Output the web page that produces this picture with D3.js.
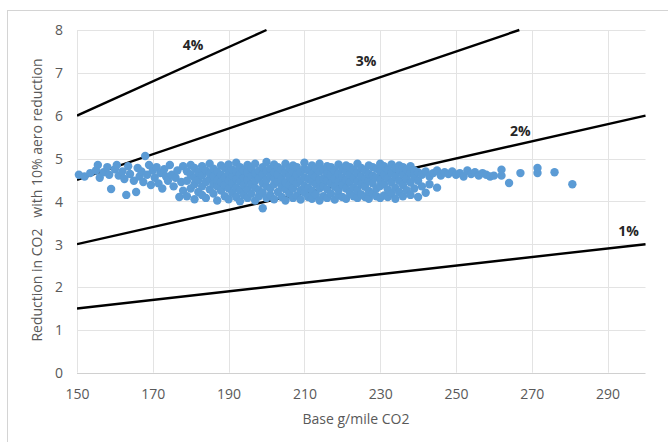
<!DOCTYPE html>
<html>
<head>
<meta charset="utf-8">
<script src="https://cdn.jsdelivr.net/npm/d3@7"></script>
<style>
  html, body { margin: 0; padding: 0; background: #fff; }
  svg { display: block; }
  text { font-family: "Open Sans", "Liberation Sans", sans-serif; }
</style>
</head>
<body>
<svg id="chart" width="668" height="442"></svg>
<script>
// ---- Data ----
const xTicks = [150, 170, 190, 210, 230, 250, 270, 290];
const yTicks = [0, 1, 2, 3, 4, 5, 6, 7, 8];
const xTitle = "Base g/mile CO2";
const yTitle = "Reduction in CO2   with 10% aero reduction";

// percentage reference lines: endpoints in data units
const lineNames = ["1%", "2%", "3%", "4%"];
const lineX0 = [150, 150, 150, 150];
const lineY0 = [1.5, 3.0, 4.5, 6.0];
const lineX1 = [300, 300, 266.7, 200];
const lineY1 = [3.0, 6.0, 8.0, 8.0];
// label anchor points (data units)
const labelX = [295.5, 267, 226.3, 180.6];
const labelY = [3.30, 5.64, 7.28, 7.65];

// scatter points: base g/mile CO2 and reduction
const baseCO2 = [
  150.5,152,153.5,155,155.5,156,157,158,158.5,159,160,160.5,161,162,162.5,163,163.5,164,165,165.6,166,166.5,
  167,167.5,168,168.5,169,169.5,170,170.5,171,171.5,172,172.5,173,173.5,174,174.5,175,175.5,176,176.5,177,177.5,178,178,
  179,179,179, 180,180,180, 181,181,181,181, 182,182,182, 183,183,183,183, 184,184,184,
  185,185,185,185, 186,186,186,186, 187,187,187,187, 188,188,188,188, 189,189,189,189,
  190,190,190,190,190, 191,191,191,191, 192,192,192,192,192, 193,193,193,193,193, 194,194,194,194,
  195,195,195,195,195, 196,196,196,196, 197,197,197,197,197, 198,198,198,198, 199,199,199,199,199,
  200,200,200,200,200, 201,201,201,201, 202,202,202,202,202, 203,203,203,203, 204,204,204,204,
  205,205,205,205,205, 206,206,206,206, 207,207,207,207,207, 208,208,208,208, 209,209,209,209,
  210,210,210,210,210, 211,211,211,211, 212,212,212,212,212, 213,213,213,213, 214,214,214,214,214,
  215,215,215,215, 216,216,216,216,216, 217,217,217,217, 218,218,218,218, 219,219,219,219,219,
  220,220,220,220, 221,221,221,221,221, 222,222,222,222, 223,223,223,223, 224,224,224,224,224,
  225,225,225,225, 226,226,226,226, 227,227,227,227,227, 228,228,228,228, 229,229,229,229,
  230,230,230,230,230, 231,231,231,231, 232,232,232,232, 233,233,233,233, 234,234,234,234,
  235,235,235,235, 236,236,236,236, 237,237,237, 238,238,238,238, 239,239,239, 240,240,240,
  241,241, 242,242, 243,243, 244, 245,245, 246, 247, 248, 249, 250, 251, 252, 253, 254, 255, 256, 257, 258, 259, 260,
  262,262, 264, 267, 271.5,271.5, 276, 280.7
];
const reduction = [
  4.62,4.58,4.66,4.72,4.85,4.55,4.68,4.80,4.62,4.29,4.75,4.85,4.60,4.70,4.52,4.15,4.82,4.64,4.48,4.22,4.78,4.58,
  4.70,4.45,5.06,4.62,4.85,4.38,4.72,4.55,4.80,4.42,4.66,4.30,4.75,4.58,4.48,4.85,4.62,4.35,4.55,4.72,4.10,4.45,4.82,4.25,
  4.12,4.48,4.70, 4.30,4.62,4.85, 4.05,4.40,4.55,4.78, 4.22,4.50,4.68, 4.15,4.35,4.60,4.82, 4.08,4.45,4.72,
  4.28,4.52,4.65,4.88, 4.18,4.40,4.58,4.76, 4.02,4.35,4.50,4.70, 4.25,4.45,4.62,4.84, 4.12,4.38,4.55,4.78,
  4.05,4.30,4.48,4.66,4.86, 4.20,4.42,4.60,4.74, 4.10,4.32,4.52,4.70,4.90, 4.00,4.25,4.46,4.64,4.80, 4.15,4.38,4.56,4.72,
  4.08,4.28,4.50,4.68,4.85, 4.18,4.40,4.60,4.78, 4.02,4.32,4.48,4.66,4.88, 4.12,4.26,4.54,4.72, 3.84,4.20,4.42,4.62,4.80,
  4.08,4.35,4.50,4.70,4.92, 4.15,4.30,4.58,4.76, 4.05,4.40,4.55,4.68,4.86, 4.22,4.46,4.62,4.80, 4.10,4.34,4.52,4.74,
  4.02,4.28,4.44,4.66,4.88, 4.18,4.38,4.58,4.78, 4.08,4.30,4.50,4.70,4.84, 4.14,4.42,4.62,4.80, 4.04,4.26,4.48,4.68,
  4.20,4.36,4.56,4.76,4.90, 4.10,4.32,4.52,4.72, 4.06,4.24,4.46,4.64,4.84, 4.16,4.40,4.58,4.78, 4.02,4.30,4.50,4.70,4.88,
  4.12,4.36,4.54,4.74, 4.08,4.28,4.48,4.66,4.82, 4.18,4.42,4.60,4.80, 4.04,4.34,4.52,4.72, 4.14,4.26,4.46,4.64,4.86,
  4.10,4.38,4.56,4.76, 4.06,4.30,4.50,4.70,4.84, 4.20,4.44,4.62,4.80, 4.12,4.32,4.54,4.74, 4.08,4.26,4.46,4.66,4.88,
  4.16,4.40,4.58,4.78, 4.10,4.34,4.52,4.72, 4.06,4.24,4.48,4.64,4.84, 4.18,4.42,4.60,4.80, 4.12,4.30,4.56,4.76,
  4.08,4.36,4.50,4.70,4.88, 4.14,4.40,4.62,4.82, 4.10,4.28,4.54,4.74, 4.18,4.44,4.66,4.86, 4.06,4.32,4.58,4.78,
  4.22,4.48,4.70,4.84, 4.12,4.38,4.62,4.80, 4.26,4.52,4.74, 4.15,4.44,4.66,4.82, 4.30,4.58,4.72, 4.10,4.48,4.68,
  4.62,4.35, 4.70,4.20, 4.58,4.40, 4.66, 4.72,4.32, 4.60, 4.68, 4.64, 4.70, 4.62, 4.66, 4.58, 4.72, 4.64, 4.68, 4.60, 4.66, 4.62, 4.58, 4.60,
  4.74,4.60, 4.43, 4.66, 4.66,4.78, 4.68, 4.40
];

// ---- Layout ----
const svg = d3.select("#chart");
const plot = { left: 77, right: 645.5, top: 30, bottom: 372.7 };

const x = d3.scaleLinear().domain([150, 300]).range([plot.left, plot.right]);
const y = d3.scaleLinear().domain([0, 8]).range([plot.bottom, plot.top]);

// outer frame
svg.append("rect")
  .attr("x", 7.5).attr("y", 10.5)
  .attr("width", 700).attr("height", 500)
  .attr("fill", "#fff").attr("stroke", "#d4d4d4").attr("stroke-width", 1);

// gridlines
svg.append("g")
  .selectAll("line").data(yTicks).join("line")
  .attr("x1", plot.left).attr("x2", plot.right)
  .attr("y1", d => Math.round(y(d)) + 0.5).attr("y2", d => Math.round(y(d)) + 0.5)
  .attr("stroke", d => d === 0 ? "#d0d0d0" : "#e3e3e3").attr("stroke-width", 1);
svg.append("g")
  .selectAll("line").data(xTicks).join("line")
  .attr("x1", d => Math.round(x(d)) + 0.5).attr("x2", d => Math.round(x(d)) + 0.5)
  .attr("y1", plot.top).attr("y2", plot.bottom)
  .attr("stroke", "#e3e3e3").attr("stroke-width", 1);

// axes (labels only, via d3 axes)
const xAxis = d3.axisBottom(x).tickValues(xTicks).tickSize(0).tickPadding(0).tickFormat(d3.format("d"));
const gx = svg.append("g").attr("transform", `translate(0,${plot.bottom})`).call(xAxis);
gx.select(".domain").remove();
gx.selectAll("text")
  .attr("y", 26).attr("dy", null)
  .attr("fill", "#595959").attr("font-size", "14px")
  .style("font-family", "'Open Sans', sans-serif");

const yAxis = d3.axisLeft(y).tickValues(yTicks).tickSize(0).tickPadding(0).tickFormat(d3.format("d"));
const gy = svg.append("g").attr("transform", `translate(${plot.left},0)`).call(yAxis);
gy.select(".domain").remove();
gy.selectAll("text")
  .attr("x", -14).attr("dy", "0.35em")
  .attr("fill", "#595959").attr("font-size", "14px")
  .style("font-family", "'Open Sans', sans-serif");

// axis titles
svg.append("text")
  .attr("x", 356).attr("y", 424)
  .attr("text-anchor", "middle")
  .attr("fill", "#595959").attr("font-size", "14px")
  .text(xTitle);
svg.append("text")
  .attr("transform", "translate(42,200) rotate(-90)")
  .attr("text-anchor", "middle")
  .attr("fill", "#595959").attr("font-size", "14px")
  .style("white-space", "pre")
  .text(yTitle);

// reference lines
svg.append("clipPath").attr("id", "plotclip")
  .append("rect").attr("x", plot.left).attr("y", plot.top - 2)
  .attr("width", plot.right - plot.left + 2).attr("height", plot.bottom - plot.top + 2);
const lineData = lineNames.map((n, i) => ({ name: n, pts: [[lineX0[i], lineY0[i]], [lineX1[i], lineY1[i]]] }));
const lineGen = d3.line().x(d => x(d[0])).y(d => y(d[1]));
svg.append("g").attr("clip-path", "url(#plotclip)")
  .selectAll("path").data(lineData).join("path")
  .attr("d", d => lineGen(d.pts))
  .attr("fill", "none").attr("stroke", "#000").attr("stroke-width", 2.4);

// scatter points
const pts = baseCO2.map((b, i) => [b, reduction[i]]);
svg.append("g")
  .selectAll("circle").data(pts).join("circle")
  .attr("cx", d => x(d[0])).attr("cy", d => y(d[1]))
  .attr("r", 4.2)
  .attr("fill", "#5b9bd5");

// line labels
svg.append("g")
  .selectAll("text").data(lineNames).join("text")
  .attr("x", (d, i) => x(labelX[i])).attr("y", (d, i) => y(labelY[i]))
  .attr("dy", "0.35em")
  .attr("text-anchor", "middle")
  .attr("font-weight", "bold").attr("font-size", "14px")
  .attr("fill", "#262626")
  .text(d => d);
</script>
</body>
</html>
